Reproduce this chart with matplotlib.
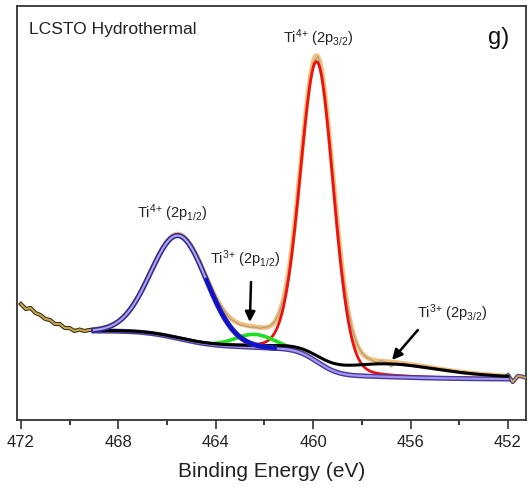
import numpy as np
import matplotlib.pyplot as plt
import matplotlib.patheffects as pe

plt.rcParams['font.family'] = ['Liberation Sans', 'DejaVu Sans']
plt.rcParams['mathtext.default'] = 'regular'

# Ti 2p region, 0.2 eV steps from 472.0 down to 451.2 eV
binding_energy = np.round(np.arange(472.0, 451.1, -0.2), 1)
intensity = np.array([
    116.0, 111.0, 112.0, 107.0, 105.0, 101.0, 100.0, 96.0, 96.0, 92.0,
    92.0, 89.0, 90.5, 89.0, 90.0, 90.2, 91.8, 92.0, 94.3, 95.6,
    99.5, 103.0, 109.0, 115.0, 123.5, 132.0, 142.6, 152.3, 163.0, 171.4,
    179.2, 183.6, 186.2, 184.3, 180.9, 173.8, 165.6, 155.1, 144.2, 133.6,
    123.8, 115.0, 107.5, 101.0, 98.2, 95.0, 94.1, 92.8, 93.0, 91.8,
    92.5, 93.6, 97.8, 106.5, 122.5, 148.0, 186.0, 233.0, 283.0, 328.0,
    357.5, 363.5, 343.0, 300.5, 249.5, 196.5, 151.0, 115.5, 90.5, 76.0,
    67.4, 62.4, 60.0, 57.8, 59.4, 57.5, 53.0, 57.0, 56.6, 56.9,
    55.0, 55.6, 53.8, 54.2, 52.4, 52.3, 50.7, 50.9, 49.3, 49.4,
    47.9, 48.1, 46.8, 47.0, 45.9, 46.0, 44.9, 45.2, 44.2, 44.6,
    44.8, 38.0, 44.0, 43.5, 41.5,
])

# fitted components
peak_names = ['Ti4+ 2p3/2', 'Ti4+ 2p1/2', 'Ti3+ 2p1/2', 'Ti3+ 2p3/2']
peak_center = [459.84, 465.50, 462.40, 456.85]
peak_fwhm = [1.60, 2.70, 1.90, 5.50]
peak_height = [300.0, 103.0, 13.0, 13.0]
peak_lorentz = [0.1, 0.0, 0.0, 0.7]

fit_window = (469.0, 452.0)
bg_high, bg_low = 89.0, 41.0


def pseudo_voigt(e, c, w, h, m):
    s = w / 2.3548
    g = np.exp(-(e - c) ** 2 / (2 * s * s))
    l = 1.0 / (1.0 + ((e - c) / (w / 2)) ** 2)
    return h * ((1 - m) * g + m * l)


e_fit = np.linspace(fit_window[0], fit_window[1], 900)
comps = [pseudo_voigt(e_fit, c, w, h, m) for c, w, h, m in
         zip(peak_center, peak_fwhm, peak_height, peak_lorentz)]
total = np.sum(comps, axis=0)

# Shirley background: step follows the peak area on the low-BE side
cum = np.cumsum(total[::-1])[::-1]
frac = (cum - cum[-1]) / (cum[0] - cum[-1])
shirley = bg_low + (bg_high - bg_low) * frac
envelope = shirley + total


def on_bg(i, floor):
    # component on top of the background, blanked where it is ~zero
    y = shirley + comps[i]
    return np.where(comps[i] > floor, y, np.nan)


fig = plt.figure(figsize=(5.3, 4.92), dpi=100)
ax = fig.add_axes([0.033, 0.1463, 0.9594, 0.8415])

inside = (binding_energy <= fit_window[0]) & (binding_energy >= fit_window[1])
left = binding_energy >= fit_window[0]
right = binding_energy <= fit_window[1]

ax.plot(binding_energy[left], intensity[left], color='#c9a94e', lw=1.4,
        path_effects=[pe.Stroke(linewidth=3.0, foreground='#3d3418'), pe.Normal()],
        zorder=3)
ax.plot(binding_energy[right], intensity[right], color='#c9a94e', lw=1.4,
        path_effects=[pe.Stroke(linewidth=3.0, foreground='#4a3c80'), pe.Normal()],
        zorder=3)

ax.plot(e_fit, envelope, color='#f4bd78', lw=3.4, zorder=2)
ax.plot(binding_energy[inside], intensity[inside], color='#a99c84', lw=0.8,
        zorder=2.5)

ax.plot(e_fit, shirley + comps[0], color='#ee1111', lw=2.0, zorder=3)
ax.plot(e_fit, on_bg(2, 0.15), color='#1fe01f', lw=2.6, zorder=3.2)

ax.plot(e_fit, shirley, color='#a596f0', lw=1.6, zorder=3.5,
        path_effects=[pe.Stroke(linewidth=3.6, foreground='#4a3a9c'), pe.Normal()])

ax.plot(e_fit, shirley + comps[3], color='black', lw=2.2, zorder=4)

blue = on_bg(1, 0.3)
ax.plot(e_fit, blue, color='#b3a6e0', lw=1.5, zorder=4.4,
        path_effects=[pe.Stroke(linewidth=3.8, foreground='#2c2a9e'), pe.Normal()])
ax.plot(e_fit[e_fit < 464.4], blue[e_fit < 464.4], color='#1010d0', lw=2.6,
        zorder=4.5)

# labels and arrows
lab = dict(fontsize=10.5, ha='center', va='baseline', color='#222222')
ax.text(459.78, 377, r'Ti$^{4{+}}$ (2p$_{3/2}$)', **lab)
ax.text(465.78, 202, r'Ti$^{4{+}}$ (2p$_{1/2}$)', **lab)
ax.text(462.80, 156, r'Ti$^{3{+}}$ (2p$_{1/2}$)', **lab)
ax.text(454.30, 102, r'Ti$^{3{+}}$ (2p$_{3/2}$)', **lab)

arrow = dict(arrowstyle='-|>', lw=1.8, color='black', mutation_scale=15,
             shrinkA=0, shrinkB=0)
ax.annotate('', xy=(462.60, 98), xytext=(462.55, 138), arrowprops=arrow)
ax.annotate('', xy=(456.76, 60), xytext=(455.70, 90), arrowprops=arrow)

ax.text(0.0226, 0.944, 'LCSTO Hydrothermal', transform=ax.transAxes,
        fontsize=12.6, ha='left', va='center', color='#222222')
ax.text(0.925, 0.908, 'g)', transform=ax.transAxes, fontsize=17,
        ha='left', va='baseline', color='#111111')

ax.set_xlim(472.14, 451.26)
ax.set_ylim(0, 414)
ax.set_yticks([])
ax.set_xticks(np.arange(472, 451, -4))
ax.set_xticks(np.arange(470, 451, -4), minor=True)
ax.tick_params(axis='x', which='major', direction='out', length=6.5, width=1.1,
               labelsize=12, pad=4, colors='#222222')
ax.tick_params(axis='x', which='minor', direction='out', length=3.5, width=1.1)
ax.set_xlabel('Binding Energy (eV)', fontsize=15, labelpad=9, color='#222222')
for sp in ax.spines.values():
    sp.set_linewidth(1.3)
    sp.set_color('#333333')

fig.savefig('out.png', dpi=100)
